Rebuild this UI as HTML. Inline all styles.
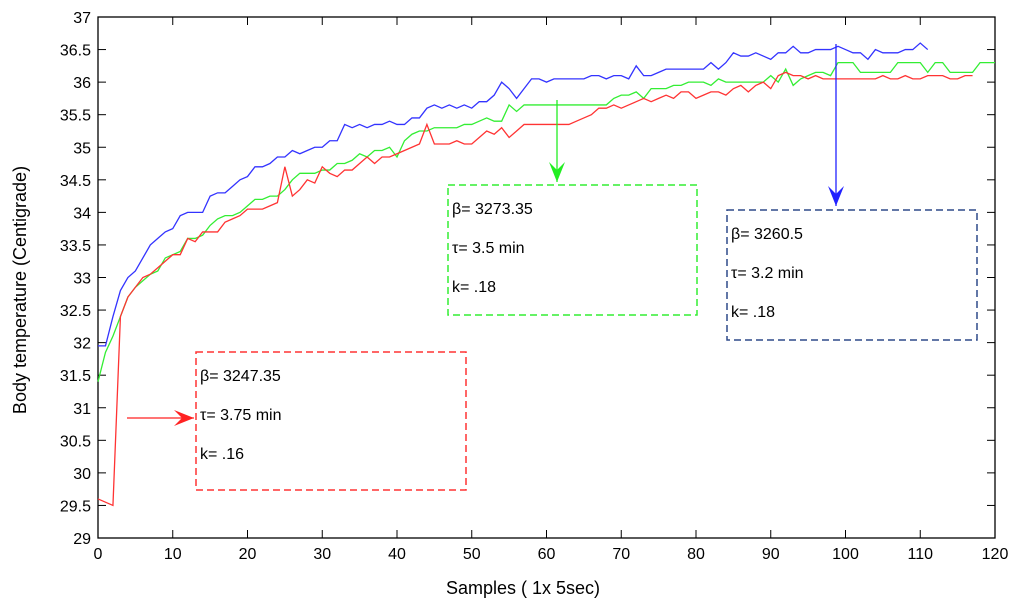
<!DOCTYPE html>
<html><head><meta charset="utf-8"><style>
body{margin:0;background:#fff;}
svg text{font-family:"Liberation Sans",sans-serif;}
</style></head><body>
<svg width="1024" height="609" xmlns="http://www.w3.org/2000/svg">
<g id="axes"></g>
<g id="series"></g>
<g id="annot"></g>
</svg>
<script>
const xTicks=[0,10,20,30,40,50,60,70,80,90,100,110,120];
const yTicks=[29,29.5,30,30.5,31,31.5,32,32.5,33,33.5,34,34.5,35,35.5,36,36.5,37];
const blueVals=[31.95,31.95,32.4,32.8,33.0,33.1,33.3,33.5,33.6,33.7,33.75,33.95,34.0,34.0,34.0,34.25,34.3,34.3,34.4,34.5,34.55,34.7,34.7,34.75,34.85,34.85,34.95,34.9,34.95,35.0,35.0,35.1,35.1,35.35,35.3,35.35,35.3,35.35,35.35,35.4,35.35,35.35,35.45,35.45,35.6,35.65,35.6,35.65,35.6,35.65,35.6,35.7,35.7,35.8,36.0,35.9,35.75,35.9,36.05,36.05,36.0,36.05,36.05,36.05,36.05,36.05,36.1,36.1,36.05,36.1,36.1,36.05,36.25,36.1,36.1,36.15,36.2,36.2,36.2,36.2,36.2,36.2,36.3,36.2,36.3,36.45,36.4,36.4,36.45,36.4,36.35,36.45,36.45,36.55,36.45,36.45,36.5,36.5,36.5,36.55,36.5,36.45,36.45,36.35,36.5,36.45,36.45,36.45,36.5,36.5,36.6,36.5];
const greenVals=[31.4,31.85,32.1,32.4,32.7,32.85,32.95,33.05,33.1,33.3,33.35,33.4,33.6,33.6,33.65,33.8,33.9,33.95,33.95,34.0,34.1,34.2,34.2,34.25,34.25,34.35,34.5,34.6,34.6,34.6,34.65,34.65,34.75,34.75,34.8,34.9,34.85,34.95,34.95,35.0,34.85,35.1,35.2,35.25,35.25,35.3,35.3,35.3,35.3,35.35,35.35,35.4,35.45,35.4,35.4,35.65,35.55,35.65,35.65,35.65,35.65,35.65,35.65,35.65,35.65,35.65,35.65,35.65,35.65,35.75,35.8,35.8,35.85,35.75,35.9,35.9,35.9,35.95,35.95,36.0,36.0,36.0,35.95,36.05,36.0,36.0,36.0,36.0,36.0,36.0,36.1,36.0,36.2,35.95,36.05,36.1,36.15,36.15,36.1,36.3,36.3,36.3,36.15,36.15,36.15,36.15,36.15,36.3,36.3,36.3,36.3,36.15,36.3,36.3,36.15,36.15,36.15,36.15,36.3,36.3,36.3];
const redVals=[29.6,29.55,29.5,32.4,32.7,32.85,33.0,33.05,33.15,33.25,33.35,33.35,33.6,33.55,33.7,33.7,33.7,33.85,33.9,33.95,34.05,34.05,34.05,34.1,34.15,34.7,34.25,34.35,34.5,34.45,34.7,34.6,34.55,34.65,34.65,34.75,34.85,34.75,34.85,34.85,34.9,34.95,35.0,35.05,35.35,35.05,35.05,35.05,35.1,35.05,35.05,35.15,35.25,35.2,35.3,35.15,35.25,35.35,35.35,35.35,35.35,35.35,35.35,35.35,35.4,35.45,35.5,35.6,35.6,35.65,35.6,35.65,35.7,35.75,35.7,35.75,35.8,35.75,35.85,35.85,35.75,35.8,35.85,35.85,35.8,35.9,35.95,35.85,35.95,36.0,35.9,36.1,36.15,36.1,36.1,36.05,36.1,36.05,36.05,36.05,36.05,36.05,36.05,36.05,36.05,36.1,36.05,36.05,36.1,36.05,36.05,36.1,36.1,36.1,36.05,36.05,36.1,36.1];
const L=98,R=995,T=17,B=538,X0=0,X1=120,Y0=29,Y1=37;
const sx=v=>L+(v-X0)/(X1-X0)*(R-L);
const sy=v=>B-(v-Y0)/(Y1-Y0)*(B-T);
const NS="http://www.w3.org/2000/svg";
function mk(tag,parent,attrs){const e=document.createElementNS(NS,tag);for(const k in attrs)e.setAttribute(k,attrs[k]);parent.appendChild(e);return e;}
const ax=document.getElementById('axes');
let fr=mk('rect',ax,{x:L,y:T,width:R-L,height:B-T,fill:'none',stroke:'#000','stroke-width':1.3});


xTicks.forEach(v=>{
  const x=sx(v);
  mk('line',ax,{x1:x,x2:x,y1:B,y2:B-8,stroke:'#000'});
  mk('line',ax,{x1:x,x2:x,y1:T,y2:T+8,stroke:'#000'});
  const t=mk('text',ax,{x:x,y:B+21,'text-anchor':'middle','font-size':16});
  t.textContent=v;
  
  
});
yTicks.forEach(v=>{
  const y=sy(v);
  mk('line',ax,{x1:L,x2:L+8,y1:y,y2:y,stroke:'#000'});
  mk('line',ax,{x1:R,x2:R-8,y1:y,y2:y,stroke:'#000'});
  const t=mk('text',ax,{x:L-7,y:y+6,'text-anchor':'end','font-size':16});
  t.textContent=v;
  
  
});
let xt=mk('text',ax,{x:523,y:594,'text-anchor':'middle','font-size':18});
xt.textContent='Samples ( 1x 5sec)';


let yt=mk('text',ax,{x:0,y:0,'text-anchor':'middle','font-size':18,transform:'translate(26,290) rotate(-90)'});
yt.textContent='Body temperature (Centigrade)';


const sg=document.getElementById('series');
[[blueVals,'#3333ff','blue-series'],[greenVals,'#33ee33','green-series'],[redVals,'#ff3333','red-series']].forEach(([vals,c,n])=>{
  const p=mk('polyline',sg,{points:vals.map((v,i)=>sx(i)+','+sy(v)).join(' '),fill:'none',stroke:c,'stroke-width':1.3});
  
  
});
const an=document.getElementById('annot');
function box(x,y,w,h,c,name,lines){
  const g=mk('g',an,{});
  
  
  mk('rect',g,{x:x,y:y,width:w,height:h,fill:'none',stroke:c,'stroke-width':1.5,'stroke-dasharray':'7,4'});
  lines.forEach((s,i)=>{const t=mk('text',g,{x:x+4,y:y+29+i*39,'font-size':16});t.textContent=s;});
}
box(448,185,249,130,'#33ee33','green-annotation-box',['β= 3273.35','τ= 3.5 min','k= .18']);
box(727,210,250,130,'#2e4a8a','blue-annotation-box',['β= 3260.5','τ= 3.2 min','k= .18']);
box(196,352,270,138,'#ff3333','red-annotation-box',['β= 3247.35','τ= 3.75 min','k= .16']);
function arrow(x1,y1,x2,y2,c,name,dir){
  const g=mk('g',an,{});
  
  
  mk('line',g,{x1:x1,y1:y1,x2:x2,y2:y2,stroke:c,'stroke-width':1.3});
  let pts=dir==='down'?`${x2-8},${y2-20} ${x2},${y2} ${x2+8},${y2-20} ${x2},${y2-12}`:`${x2-20},${y2-8} ${x2},${y2} ${x2-20},${y2+8} ${x2-12},${y2}`;
  mk('polygon',g,{points:pts,fill:c});
}
arrow(557,100,557,182,'#22ee22','green-arrow','down');
arrow(836,44,836,206,'#2222ff','blue-arrow','down');
arrow(127,418,194,418,'#ff2222','red-arrow','right');
</script>
</body></html>
